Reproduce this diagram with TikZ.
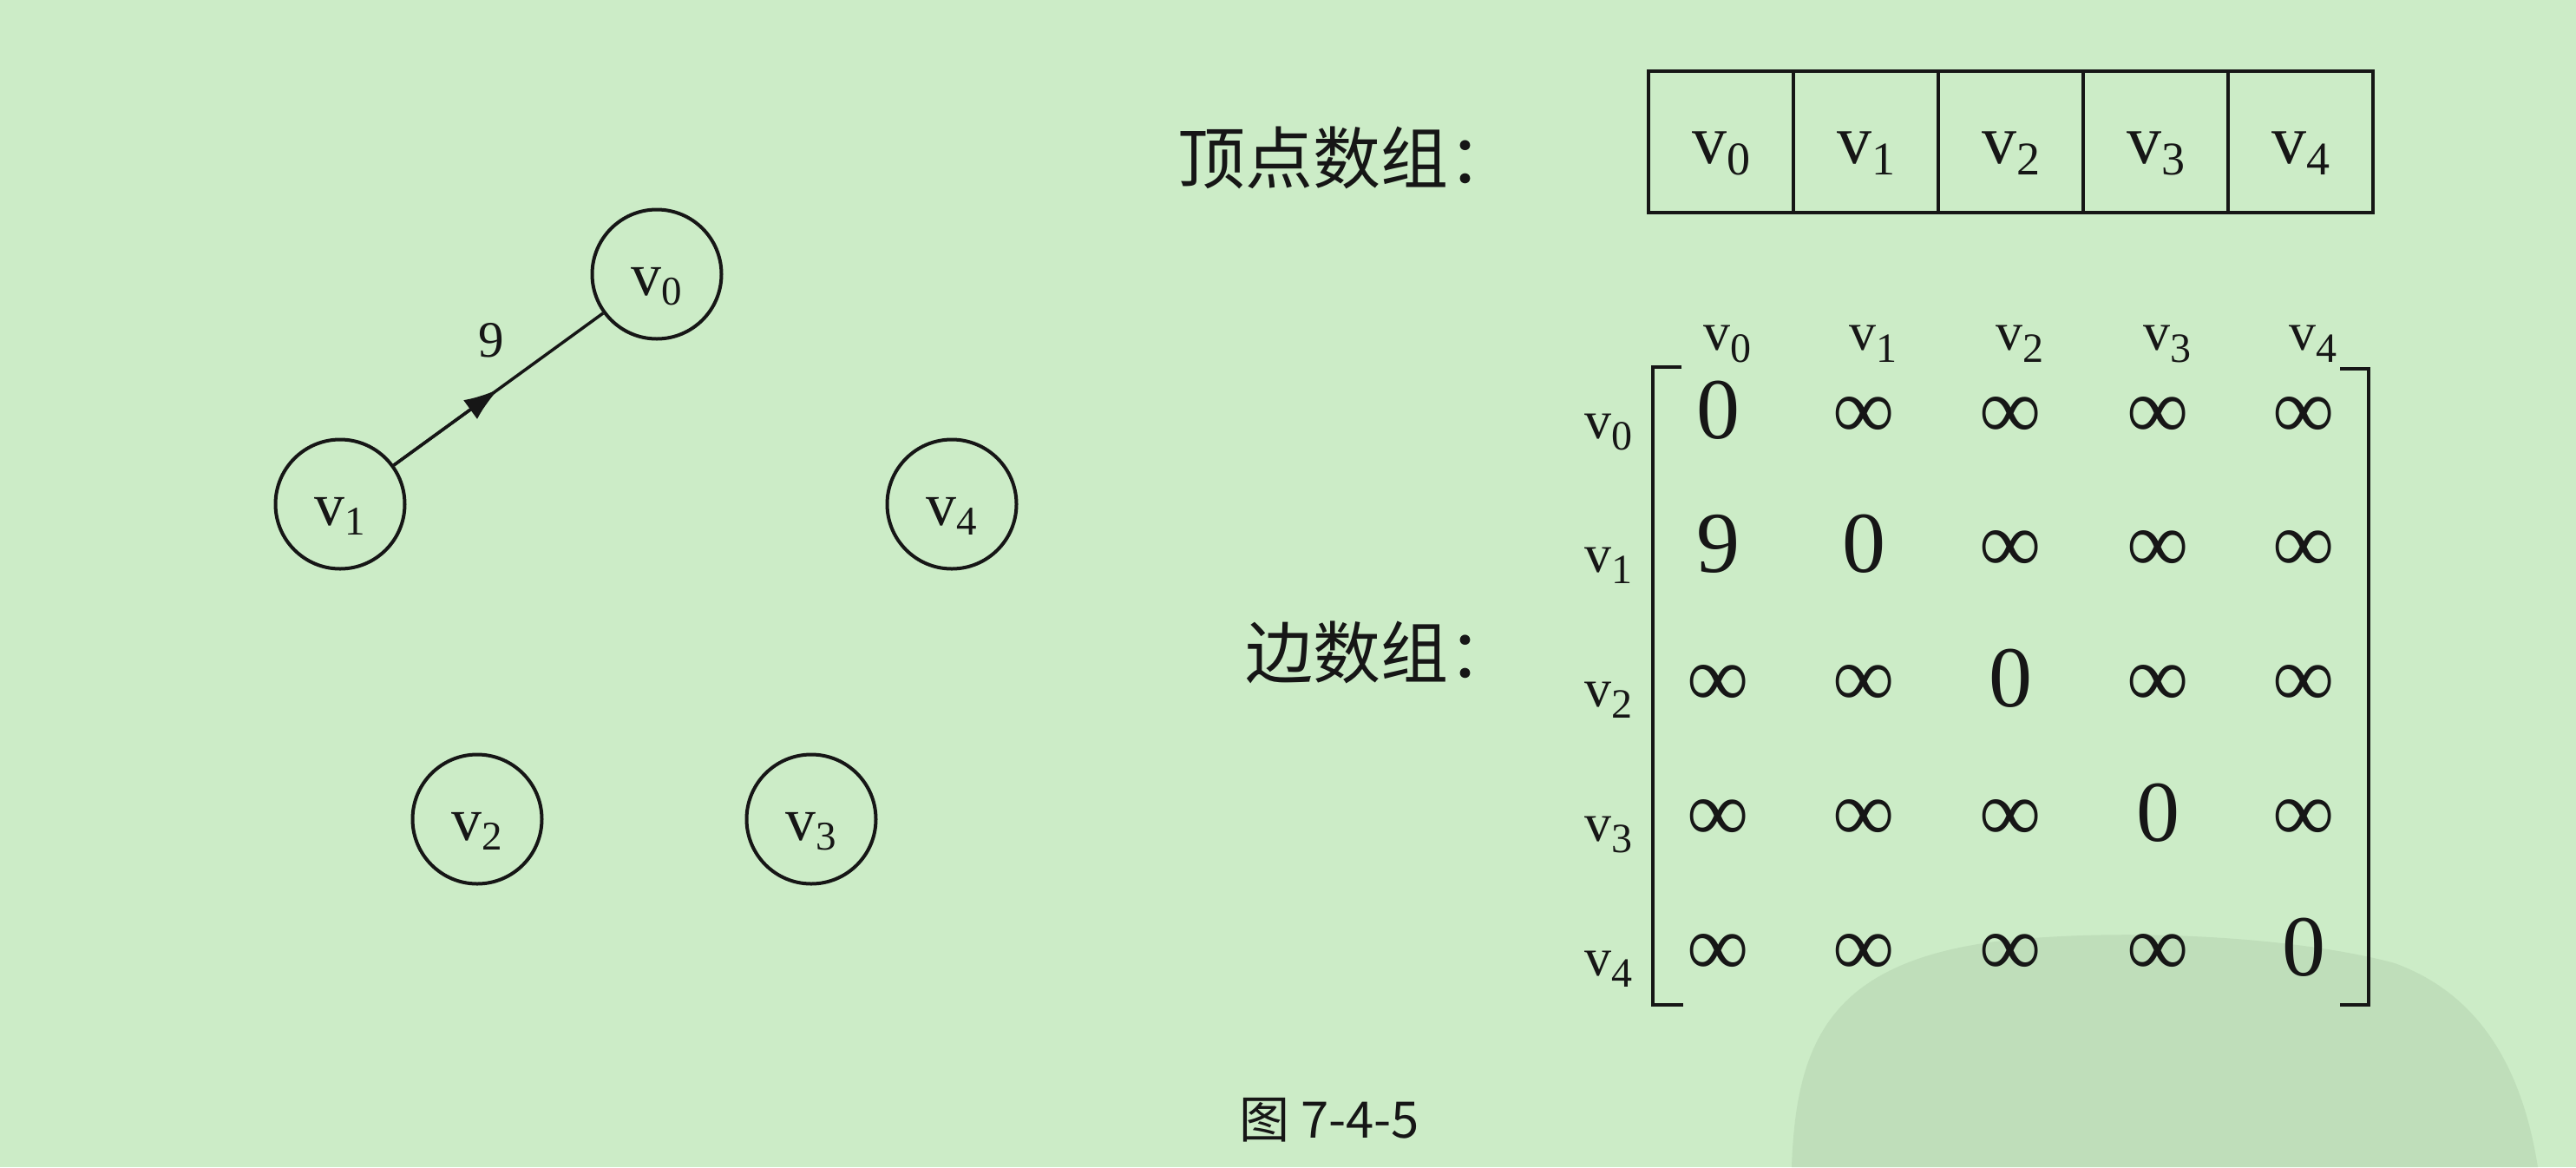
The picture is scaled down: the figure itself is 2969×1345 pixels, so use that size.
\documentclass[tikz,border=0pt]{standalone}
\usepackage{fontspec}
\setmainfont{Liberation Serif}
\newfontfamily\cjk{Noto Sans CJK SC}
\usetikzlibrary{arrows.meta,calc}
\definecolor{bgc}{RGB}{204,236,199}
\definecolor{wmc}{RGB}{191,222,186}
\definecolor{ink}{RGB}{22,22,22}
\newcommand{\fs}[1]{\fontsize{#1}{#1}\selectfont}
% \vsub{main size}{sub size}{lowering}{index}
\newcommand{\vsub}[4]{{\fs{#1}v\raisebox{-#3pt}{\fs{#2}#4}}}
\begin{document}
\begin{tikzpicture}[x=1pt,y=-1pt,
  vert/.style={circle,draw=ink,line width=4pt,minimum size=149pt,inner sep=0pt,
    text height=58pt,text depth=10pt,text=ink},
  edge/.style={draw=ink,line width=3.5pt},
  cell/.style={rectangle,draw=ink,line width=4pt,minimum width=167pt,minimum height=163pt,
    inner sep=0pt,text height=62pt,text depth=13pt,text=ink},
  entry/.style={anchor=base,inner sep=0pt,font=\fs{100},text=ink},
  rlab/.style={anchor=base east,inner sep=0pt,text=ink},
  clab/.style={anchor=base west,inner sep=0pt,text=ink},
  brk/.style={draw=ink,line width=4.5pt},
  cjklab/.style={anchor=east,inner sep=0pt,font=\cjk\fs{78},text=ink}
]
\useasboundingbox (0,0) rectangle (2969,1345);
\fill[bgc] (0,0) rectangle (2969,1345);
% watermark
\fill[wmc] (2065,1345) .. controls (2070,1200) and (2110,1110) .. (2300,1085)
  .. controls (2450,1068) and (2650,1080) .. (2760,1110)
  .. controls (2870,1150) and (2910,1250) .. (2925,1345) -- cycle;

% graph
\node[vert] (v0) at (757,316) {\vsub{70}{47}{11}{0}};
\node[vert] (v1) at (392,581) {\vsub{70}{47}{11}{1}};
\node[vert] (v4) at (1097,581) {\vsub{70}{47}{11}{4}};
\node[vert] (v2) at (550,944) {\vsub{70}{47}{11}{2}};
\node[vert] (v3) at (935,944) {\vsub{70}{47}{11}{3}};
\coordinate (mid) at ($(v1.center)!0.5!(v0.center)$);
\draw[edge] (v1) -- (v0);
\draw[edge,-{Latex[length=40pt,width=27pt]}] (v1) -- (mid);
\node[font=\fs{59},text=ink,inner sep=0pt] (w10) at (566,392) {9};

% vertex array
\node[cjklab] (lv) at (1748,182) {顶点数组：};
\node[cell] (c0) at (1983.5,163.5) {\vsub{80}{54}{13}{0}};
\node[cell] (c1) at (2150.5,163.5) {\vsub{80}{54}{13}{1}};
\node[cell] (c2) at (2317.5,163.5) {\vsub{80}{54}{13}{2}};
\node[cell] (c3) at (2484.5,163.5) {\vsub{80}{54}{13}{3}};
\node[cell] (c4) at (2651.5,163.5) {\vsub{80}{54}{13}{4}};

% edge array
\node[cjklab] (le) at (1748,752) {边数组：};
% column headers
\node[clab] (h0) at (1963,403) {\vsub{62}{48}{14}{0}};
\node[clab] (h1) at (2131,403) {\vsub{62}{48}{14}{1}};
\node[clab] (h2) at (2300,403) {\vsub{62}{48}{14}{2}};
\node[clab] (h3) at (2470,403) {\vsub{62}{48}{14}{3}};
\node[clab] (h4) at (2638,403) {\vsub{62}{48}{14}{4}};
% row labels
\node[rlab] (r0) at (1882,505) {\vsub{62}{48}{13}{0}};
\node[rlab] (r1) at (1882,659) {\vsub{62}{48}{13}{1}};
\node[rlab] (r2) at (1882,814) {\vsub{62}{48}{13}{2}};
\node[rlab] (r3) at (1882,969) {\vsub{62}{48}{13}{3}};
\node[rlab] (r4) at (1882,1124) {\vsub{62}{48}{13}{4}};
% entries
\node[entry] (m00) at (1980,505) {0};
\node[entry] (m01) at (2148,505) {∞};
\node[entry] (m02) at (2317,505) {∞};
\node[entry] (m03) at (2487,505) {∞};
\node[entry] (m04) at (2655,505) {∞};
\node[entry] (m10) at (1980,659) {9};
\node[entry] (m11) at (2148,659) {0};
\node[entry] (m12) at (2317,659) {∞};
\node[entry] (m13) at (2487,659) {∞};
\node[entry] (m14) at (2655,659) {∞};
\node[entry] (m20) at (1980,814) {∞};
\node[entry] (m21) at (2148,814) {∞};
\node[entry] (m22) at (2317,814) {0};
\node[entry] (m23) at (2487,814) {∞};
\node[entry] (m24) at (2655,814) {∞};
\node[entry] (m30) at (1980,969) {∞};
\node[entry] (m31) at (2148,969) {∞};
\node[entry] (m32) at (2317,969) {∞};
\node[entry] (m33) at (2487,969) {0};
\node[entry] (m34) at (2655,969) {∞};
\node[entry] (m40) at (1980,1124) {∞};
\node[entry] (m41) at (2148,1124) {∞};
\node[entry] (m42) at (2317,1124) {∞};
\node[entry] (m43) at (2487,1124) {∞};
\node[entry] (m44) at (2655,1124) {0};
% brackets
\draw[brk] (1938,423) -- (1905,423) -- (1905,1158) -- (1940,1158);
\draw[brk] (2697,425) -- (2730,425) -- (2730,1158) -- (2697,1158);

% caption
\node[font=\cjk\fs{58},text=ink,inner sep=0pt] (cap) at (1532,1291) {图 7-4-5};
\end{tikzpicture}
\end{document}
